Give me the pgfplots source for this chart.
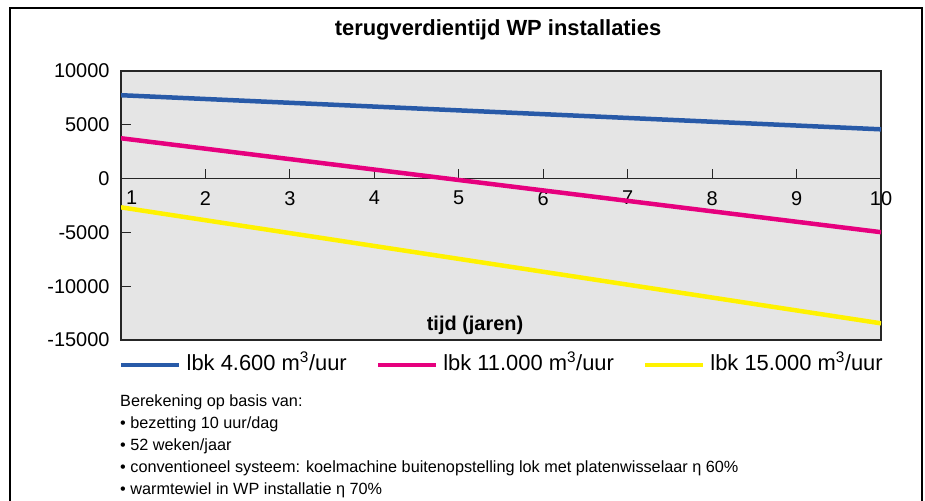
\documentclass[border=0pt]{standalone}
\usepackage{pgfplots}
\pgfplotsset{compat=1.18}
\usepackage{fontspec}
\setmainfont{Liberation Sans}
\definecolor{cblue}{RGB}{40,90,168}
\definecolor{cpink}{RGB}{230,0,126}
\definecolor{cyellow}{RGB}{255,242,0}
\begin{document}
\begin{tikzpicture}
\useasboundingbox (0bp,0bp) rectangle (925bp,-501bp);
\draw[line width=1.2bp] (10bp,-505bp) -- (10bp,-8bp) -- (922bp,-8bp) -- (922bp,-505bp);
\node[font=\fontsize{22}{26}\selectfont\bfseries] at (498bp,-30bp) {terugverdientijd WP installaties};
\begin{axis}[
  at={(121bp,-340bp)}, anchor=south west,
  width=760bp, height=269bp, scale only axis,
  xmin=1, xmax=10, ymin=-15000, ymax=10000,
  axis x line*=middle, axis y line*=left,
  hide obscured x ticks=false, hide obscured y ticks=false,
  axis background/.style={fill=black!10, draw=black!85, line width=1.2bp},
  axis line style={black!85, line width=1.2bp},
  xtick={1,...,10},
  xticklabels={{\makebox[0pt][l]{\hspace{5bp}1}},2,3,4,5,6,7,8,9,10},
  ytick={-15000,-10000,-5000,0,5000,10000},
  scaled y ticks=false,
  tick align=inside,
  major tick length=10bp,
  every tick/.append style={draw=black!85, line width=1bp},
  /pgf/number format/assume math mode=true,
  /pgf/number format/set thousands separator={},
  yticklabel style={font=\fontsize{20}{24}\selectfont, xshift=-8bp},
  xticklabel style={font=\fontsize{20}{24}\selectfont, yshift=-9bp},
  legend columns=3,
  legend style={at={(0,0)}, anchor=north west, xshift=-2bp, yshift=-10bp, draw=none, fill=none,
    font=\fontsize{22}{26}\selectfont, inner sep=0pt,
    /tikz/every odd column/.append style={column sep=3bp},
    /tikz/every even column/.append style={column sep=27bp}},
  legend image code/.code={\draw[#1] (0bp,-3bp) -- (58bp,-3bp);},
]
\addplot[cblue, line width=4.5bp] coordinates {(1,7750) (10,4580)};
\addlegendentry{lbk 4.600 m\textsuperscript{3}/uur}
\addplot[cpink, line width=4.5bp] coordinates {(1,3750) (10,-4980)};
\addlegendentry{lbk 11.000 m\textsuperscript{3}/uur}
\addplot[cyellow, line width=4.5bp] coordinates {(1,-2670) (10,-13450)};
\addlegendentry{lbk 15.000 m\textsuperscript{3}/uur}
\end{axis}
\node[font=\fontsize{20}{24}\selectfont\bfseries] at (475bp,-325bp) {tijd (jaren)};
\node[font=\fontsize{16.3}{22}\selectfont, anchor=north west, align=left, inner sep=0pt] at (120bp,-395bp) {Berekening op basis van:\\
\textbullet{} bezetting 10 uur/dag\\
\textbullet{} 52 weken/jaar\\
\textbullet{} conventioneel systeem: koelmachine buitenopstelling lok met platenwisselaar η 60\%\\
\textbullet{} warmtewiel in WP installatie η 70\%};
\end{tikzpicture}
\end{document}
